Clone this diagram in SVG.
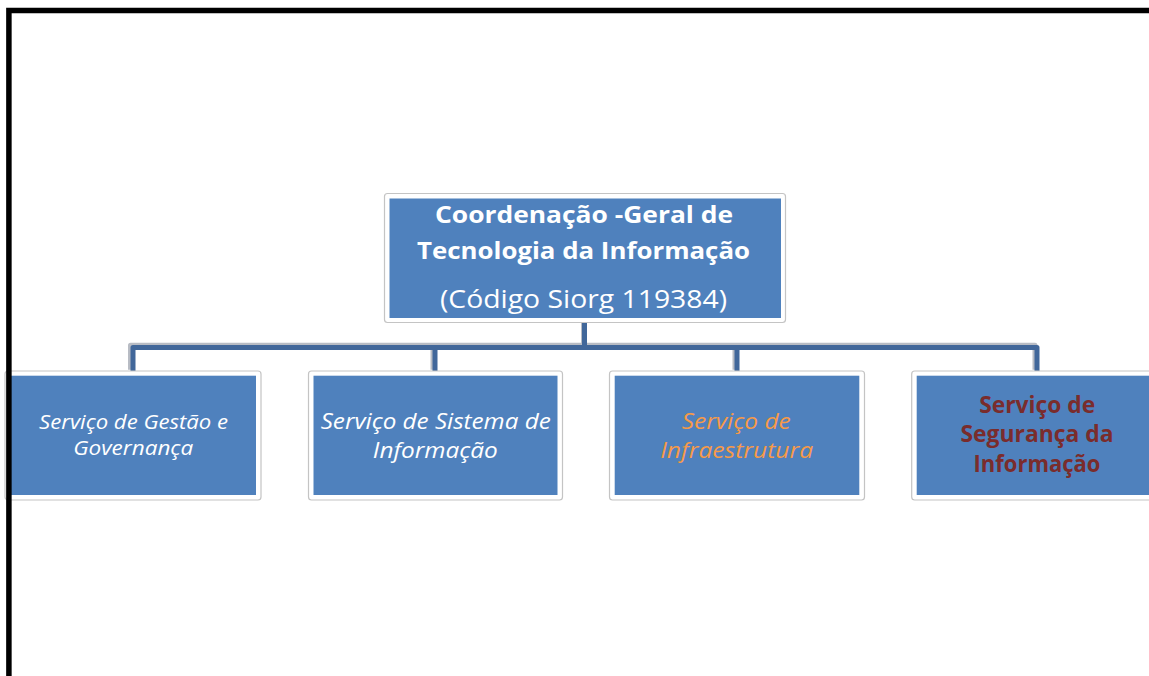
<svg xmlns="http://www.w3.org/2000/svg" width="1149" height="676" viewBox="0 0 1149 676">
  <style>
    .outer { fill: #ffffff; stroke: #c4c4c4; stroke-width: 1.2; }
    .inner { fill: #4f81bd; }
    .conn { fill: none; stroke: #41679a; stroke-width: 5; stroke-linejoin: round; }
    .connsh { fill: none; stroke: #b8bcc4; stroke-width: 5; stroke-linejoin: round; }
    .t { font-family: "Open Sans", "Liberation Sans", sans-serif; text-anchor: middle; }
    .white { fill: #ffffff; }
  </style>
  <rect width="1149" height="676" fill="#ffffff"/>

  <g id="connectors">
    <path class="connsh" d="M584.5,322 V346.5 M131.5,371 V346.5 H1036 V371 M434,346.5 V371 M736,346.5 V371" transform="translate(-1,-1.2)"/>
    <path class="conn" d="M584.5,322 V347.5 M133,371 V347.5 H1037 V371 M435,347.5 V371 M737,347.5 V371"/>
  </g>

  <g id="root">
    <rect class="outer" x="384.5" y="193.5" width="401" height="129" rx="3"/>
    <rect class="inner" x="389.5" y="198.5" width="391.5" height="119.5"/>
    <text class="t white" x="584" y="222.5" font-size="24" font-weight="bold" textLength="298" lengthAdjust="spacingAndGlyphs">Coordenação -Geral de</text>
    <text class="t white" x="583.5" y="258.5" font-size="24" font-weight="bold" textLength="333" lengthAdjust="spacingAndGlyphs">Tecnologia da Informação</text>
    <text class="t white" x="583.5" y="308" font-size="25" textLength="287" lengthAdjust="spacingAndGlyphs">(Código Siorg 119384)</text>
  </g>

  <g id="gestao">
    <rect class="outer" x="5" y="371" width="256" height="129" rx="3"/>
    <rect class="inner" x="10" y="375.7" width="246" height="119.3"/>
    <text class="t white" x="133.5" y="429" font-size="20.5" font-style="italic" textLength="189" lengthAdjust="spacingAndGlyphs">Serviço de Gestão e</text>
    <text class="t white" x="133.3" y="455" font-size="20.5" font-style="italic" textLength="120" lengthAdjust="spacingAndGlyphs">Governança</text>
  </g>

  <g id="sistema">
    <rect class="outer" x="308.5" y="371" width="254" height="129" rx="3"/>
    <rect class="inner" x="313.5" y="375.7" width="244" height="119.3"/>
    <text class="t white" x="435.7" y="429" font-size="22.5" font-style="italic" textLength="230" lengthAdjust="spacingAndGlyphs">Serviço de Sistema de</text>
    <text class="t white" x="435.3" y="458" font-size="22.5" font-style="italic" textLength="125" lengthAdjust="spacingAndGlyphs">Informação</text>
  </g>

  <g id="infraestrutura">
    <rect class="outer" x="609.5" y="371" width="255" height="129" rx="3"/>
    <rect class="inner" x="614.7" y="375.7" width="244.6" height="119.3"/>
    <text class="t" fill="#f79a48" x="736.2" y="428.5" font-size="22.5" font-style="italic" textLength="109" lengthAdjust="spacingAndGlyphs">Serviço de</text>
    <text class="t" fill="#f79a48" x="736.7" y="457.7" font-size="22.5" font-style="italic" textLength="153" lengthAdjust="spacingAndGlyphs">Infraestrutura</text>
  </g>

  <g id="seguranca">
    <rect class="outer" x="911.7" y="371" width="254" height="129" rx="3"/>
    <rect class="inner" x="916.7" y="375.7" width="244" height="119.3"/>
    <text class="t" fill="#7a2c2c" x="1037.2" y="412.7" font-size="22.5" font-weight="bold" textLength="116" lengthAdjust="spacingAndGlyphs">Serviço de</text>
    <text class="t" fill="#7a2c2c" x="1037" y="441.7" font-size="22.5" font-weight="bold" textLength="153" lengthAdjust="spacingAndGlyphs">Segurança da</text>
    <text class="t" fill="#7a2c2c" x="1037" y="471.7" font-size="22.5" font-weight="bold" textLength="127" lengthAdjust="spacingAndGlyphs">Informação</text>
  </g>

  <path d="M8.9,676 V10.5 H1149" fill="none" stroke="#000000" stroke-width="5.5"/>
</svg>
